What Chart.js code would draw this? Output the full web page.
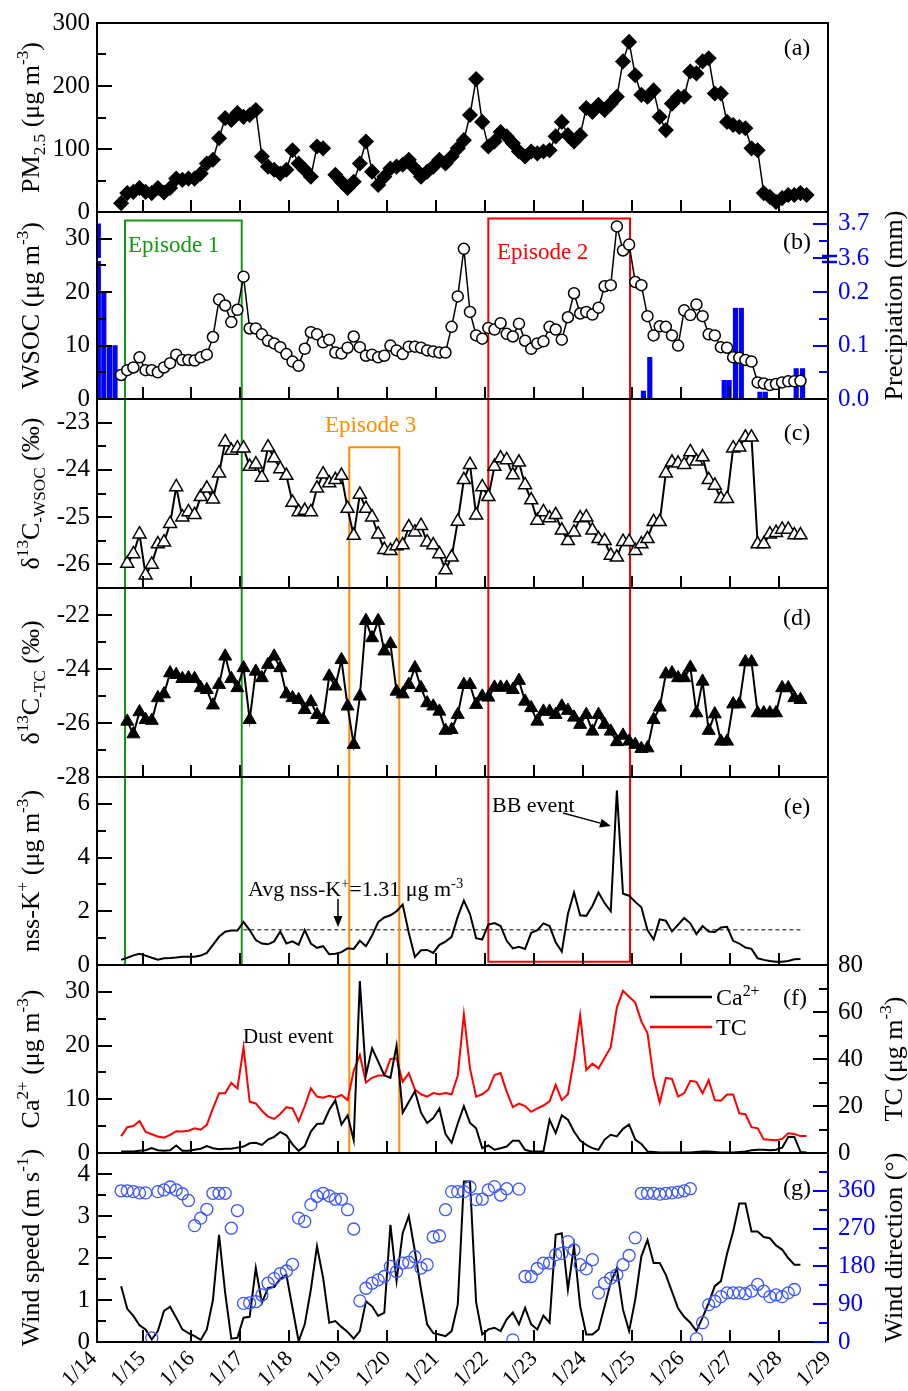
<!DOCTYPE html>
<html>
<head>
<meta charset="utf-8">
<script src="https://cdn.jsdelivr.net/npm/chart.js@4.4.1/dist/chart.umd.min.js"></script>
<style>
  html, body { margin: 0; padding: 0; background: #fff; }
  #wrap { position: relative; width: 908px; height: 1391px; overflow: hidden; }
  #wrap canvas { position: absolute; left: 0; }
</style>
</head>
<body>
<div id="wrap"></div>
<script>
/* =========================
   DATA
========================= */

// sample times, days after 1/14 00:00
const sampleDay = [
  0.563, 0.688, 0.813, 0.938,
  1.063, 1.188, 1.313, 1.438, 1.563, 1.688, 1.813, 1.938,
  2.063, 2.188, 2.313, 2.438, 2.563, 2.688, 2.813, 2.938,
  3.063, 3.188, 3.313, 3.438, 3.563, 3.688, 3.813, 3.938,
  4.063, 4.188, 4.313, 4.438, 4.563, 4.688, 4.813, 4.938,
  5.063, 5.188, 5.313, 5.438, 5.563, 5.688, 5.813, 5.938,
  6.063, 6.188, 6.313, 6.438, 6.563, 6.688, 6.813, 6.938,
  7.063, 7.188, 7.313, 7.438, 7.563, 7.688, 7.813, 7.938,
  8.063, 8.188, 8.313, 8.438, 8.563, 8.688, 8.813, 8.938,
  9.063, 9.188, 9.313, 9.438, 9.563, 9.688, 9.813, 9.938,
  10.063, 10.188, 10.313, 10.438, 10.563, 10.688, 10.813, 10.938,
  11.063, 11.188, 11.313, 11.438, 11.563, 11.688, 11.813, 11.938,
  12.063, 12.188, 12.313, 12.438, 12.563, 12.688, 12.813, 12.938,
  13.063, 13.188, 13.313, 13.438, 13.563, 13.688, 13.813, 13.938,
  14.063, 14.188, 14.313, 14.438, 14.563
];

const pm25 = [
  14, 30, 32, 38, 32, 30, 38, 31, 38,
  53, 51, 53, 53, 61, 77, 83, 117, 149, 146, 157, 151, 154, 162, 88, 72, 67, 61, 67, 98, 77, 67, 56, 104, 101,
  null,
  59, 48, 38, 48, 77, 112, 64, 43, 56, 69, 72, 75, 83, 69, 56, 64, 72, 83, 77, 88, 101, 114,
  154, 211, 143, 104, 112, 127, 120, 109, 96, 88, 96, 93, 96, 98, 120, 143, 122, 112, 122, 165, 159, 170, 162, 172,
  183, 239, 270, 217, 186, 183, 193, 151, 130, 172, 183, 183, 223, 220, 239, 244, 188, 188, 143, 138, 135, 133,
  101, 98, 30, 24, 16, 22, 27, 27, 30, 27
];

const wsoc = [
  4.5, 5.4, 5.9, 7.8, 5.4, 5.4, 5.0, 5.9, 6.7, 8.3,
  7.3, 7.3, 7.2, 7.8, 8.3, 11.6, 18.6, 17.5, 14.4, 16.7,
  22.9, 13.2, 13.2, 12.1, 10.9, 10.4, 9.7, 8.4, 7.0, 6.2,
  9.4, 12.5, 12.1, 10.6, 11.1, 8.7, 8.5, 9.6, 11.7, 9.7,
  8.1, 8.3, 7.8, 8.1, 10.0, 9.1, 8.4, 9.8, 9.8, 9.6,
  9.1, 8.9, 8.7, 8.7, 13.5, 19.2, 28.1, 16.3, 11.9, 11.3,
  13.3, 13.0, 14.2, 12.2, 11.7, 14.1, 10.9, 9.4, 10.4, 10.8,
  13.5, 13.0, 11.1, 15.3, 19.8, 16.0, 16.3, 15.8, 17.1, 21.1,
  21.3, 32.3, 27.8, 28.9, 21.9, 21.3, 15.5, 11.9, 13.6, 13.5,
  11.9, 10.0, 16.6, 15.7, 17.7, 15.5, 12.1, 11.9, 9.7, 9.6,
  7.8, 7.7, 7.3, 7.0, 3.1, 2.9, 2.6, 2.8, 3.1, 3.3,
  3.3, 3.4, null
];

const precipDay = [0.097, 0.209, 0.325, 0.438, 11.23, 11.36, 12.88, 12.98, 13.11, 13.23, 13.61, 13.72, 14.35, 14.48];
const precipMm  = [3.7, 0.2, 0.1, 0.1, 0.015, 0.078, 0.035, 0.035, 0.17, 0.17, 0.013, 0.013, 0.057, 0.057];
const precipTickValues = [0, 0.1, 0.2, 3.6, 3.7];
const precipTickLabels = ['0.0', '0.1', '0.2', '3.6', '3.7'];

const d13cWsoc = [
  null,
  -25.98, -25.78, -25.36, -26.23, -26.0, -25.57, -25.53, -25.14, -24.36, -25.0,
  -24.89, -24.95, -24.57, -24.39, -24.62, -24.07, -23.41, -23.59, -23.54, -23.54,
  -23.93, -23.88, -24.16, -23.52, -23.75, -23.98, -24.12, -24.69, -24.89, -24.86,
  -24.89, -24.39, -24.09, -24.28, -24.21, -24.12, -24.82, -25.39, -24.52, -24.82,
  -25.0, -25.36, -25.69, -25.71, -25.61, -25.59, -25.21, -25.32, -25.18, -25.53,
  -25.59, -25.78, -26.12, -25.85, -25.09, -24.21,
  -23.89, -24.96, -24.36, -24.57, -23.93, -23.75, -23.79, -24.11, -23.84, -24.32,
  -24.64, -25.07, -24.89, -25.02, -24.95, -25.28, -25.50, -25.32, -25.02, -25.0,
  -25.28, -25.46, -25.50, -25.81, -25.85, -25.52, -25.52, -25.71, -25.57, -25.46,
  -25.10, -25.10, -24.07, -23.84, -23.86, -23.89, -23.62, -23.82, -23.73, -24.21,
  -24.33, -24.61, -24.61, -23.54, -23.52, -23.31, -23.31, -25.57, -25.57, -25.36,
  -25.33, -25.26, -25.26, -25.38, -25.38,
  null
];

const d13cTc = [
  null,
  -25.94, -26.41, -25.59, -25.88, -25.91, -25.07, -24.93, -24.15, -24.21, -24.36,
  -24.33, -24.36, -24.70, -24.77, -25.34, -24.58, -23.53, -24.36, -24.70, -23.96,
  -25.88, -24.09, -24.33, -23.84, -23.53, -23.96, -24.93, -25.07, -25.14, -25.51,
  -25.22, -25.69, -25.88, -24.27, -24.64, -23.66, -25.38, -26.80, -25.01, -22.21,
  -22.85, -22.21, -23.34, -23.07, -24.83, -24.93, -24.58, -23.96, -24.70, -25.26,
  -25.38, -25.57, -26.28, -26.25, -25.69, -24.58,
  -24.58, -25.32, -25.01, -25.05, -24.68, -24.68, -24.68, -24.77, -24.43, -25.20,
  -25.44, -25.94, -25.57, -25.57, -25.69, -25.38, -25.54, -25.79, -26.06, -25.69,
  -26.31, -25.69, -26.06, -26.31, -26.70, -26.46, -26.68, -26.80, -26.95, -26.93,
  -25.88, -25.42, -24.19, -24.15, -24.33, -24.33, -23.94, -25.63, -24.46, -26.28,
  -25.67, -26.68, -26.68, -25.30, -25.30, -23.74, -23.74, -25.63, -25.63, -25.63,
  -25.63, -24.70, -24.70, -25.07, -25.14,
  null
];

const nssK = [
  0.19, 0.27, 0.36, 0.42, 0.35, 0.27, 0.2, 0.25, 0.26, 0.28,
  0.31, 0.31, 0.31, 0.35, 0.45, 0.75, 1.05, 1.24, 1.28, 1.28,
  1.6, 1.3, 0.93, 0.8, 0.77, 0.88, 1.25, 0.8, 0.88, 0.75,
  1.3, 0.8, 0.64, 0.7, 0.4, 0.42, 0.48, 0.62, 0.6, 0.9,
  0.7, 1.1, 1.6, 1.77, 1.85, 2.0, 2.25, 1.2, 0.3, 0.55,
  0.56, 0.45, 0.75, 0.87, 1.05, 1.8, 2.4, 1.9, 1.0, 0.95,
  1.5, 1.56, 1.45, 0.9, 0.62, 0.68, 0.6, 1.2, 1.3, 1.55,
  1.45, 0.85, 0.5, 1.9, 2.7, 1.85, 1.83, 2.2, 2.7, 2.3,
  2.0, 6.5, 2.65, 2.58, 2.35, 2.15, 1.3, 0.95, 1.7, 1.65,
  1.25, 1.5, 1.75, 1.55, 1.15, 1.45, 1.25, 1.23, 1.4, 1.42,
  0.9, 0.8, 0.65, 0.6, 0.25, 0.19, 0.15, 0.12, 0.12, 0.15,
  0.21, 0.22, null
];
const nssKAvg = 1.31;
const nssKAvgSpan = [3.06, 14.5];

const calcium = [
  0.3, 0.3, 0.3, 0.4, 0.5, 0.9, 0.5, 0.4, 0.5, 1.4,
  0.4, 0.4, 0.6, 0.8, 1.3, 0.9, 0.7, 0.8, 0.8, 1.0,
  1.2, 1.8, 1.9, 1.5, 2.5, 3.0, 3.9, 3.3, 1.6, 0.4,
  1.3, 4.0, 5.4, 5.5, 8.0, 9.8, 5.3, 7.0, 2.4, 32,
  14.5, 19.5, 17, 14.5, 14, 20, 7.5, 9.5, 11.5, 7.5,
  5.6, 6.5, 8.3, 3.5, 1.9, 5.5, 8.7, 5.6, 4.6, 0.9,
  1.4, 0.6, 0.9, 1.2, 2.3, 2.3, 0.6, 0.3, 0.3, 0.3,
  6.2, 3.7, 7.0, 6.2, 4.0, 2.3, 1.5, 0.9, 0.6, 2.5,
  3.4, 3.1, 4.5, 5.3, 2.5, 1.7, 0.3, 0.2, 0.1, 0.1,
  0.1, 0.1, 0.1, 0.1, 0.2, 0.3, 0.3, 0.2, 0.1, 0.1,
  0.1, 0.2, 0.3, 0.5, 0.6, 0.6, 0.5, 0.6, 1.0, 3.0,
  3.0, 0.2, 0.1
];

const totalCarbon = [
  7.2, 11, 11.5, 13.6, 9, 8, 7, 6.5, 7.7, 9.3,
  9.2, 9.5, 10.5, 9.9, 12, 19, 25.4, 25.4, 29.9, 27.5,
  45, 21.8, 21.1, 18, 15.5, 14.5, 16.6, 19.5, 19, 13.5,
  20, 27.5, 24, 23.5, 24.3, 23.6, 24.7, 22.5, 35, 41.7,
  30, 32, 33, 33, 40, 40.3, 30.3, 34, 27, 25,
  24, 25.5, 25, 25.5, 25, 33, 59, 36, 24, 25,
  27, 33.2, 34, 26, 19.5, 21, 20, 17.5, 19, 20.2,
  22, 29, 22.5, 25, 40, 58.7, 35.3, 38, 36, 40.5,
  45, 62, 69, 66.5, 64, 56, 51, 32, 21.5, 32,
  31.5, 24, 25.5, 30.7, 30.3, 25.4, 31, 22.5, 22.3, 24.9,
  24.9, 16.9, 16.5, 11, 10.5, 5.8, 5.6, 5.4, 6, 8.4,
  8.1, 7.2, 7.2
];

const windSpeed = [
  1.33, 0.79, 0.62, 0.4, 0.3, 0.06, 0.26, 0.74, 0.84, 0.58,
  0.30, 0.21, 0.14, 0.05, 0.30, 1.0, 2.55, 1.17, 0.08, 0.1,
  0.58, 0.6, 1.76, 0.93, 1.29, 1.31, 1.5, 1.6, 0.81, 0.02,
  0.42, 1.25, 2.28, 1.53, 0.46, 0.5, 0.36, 0.24, 0.08, 0.26,
  0.97, 0.85, 0.62, 0.7, 2.79, 1.45, 2.59, 3.0, 2.16, 1.25,
  0.42, 0.21, 0.18, 0.14, 0.26, 0.89, 3.82, 3.82, 0.95, 0.18,
  0.3, 0.34, 0.26, 0.54, 0.7, 0.42, 0.81, 0.42, 0.3, 0.63,
  0.46, 2.55, 2.59, 1.25, 2.28, 0.85, 0.18, 0.18, 0.3, 0.85,
  1.42, 1.76, 0.77, 0.26, 1.01, 2.04, 2.43, 1.88, 1.88, 1.6,
  1.2, 0.8, 0.6, 0.46, 0.26, 0.58, 0.93, 1.33, 1.45, 2.1,
  2.63, 3.3, 3.3, 2.63, 2.63, 2.5, 2.47, 2.3, 2.2, 2.0,
  1.84, 1.84, null
];

const windDir = [
  360, 360, 358, 355, 355, 10, 358, 362, 369, 362,
  353, 337, 277, 295, 316, 354, 354, 354, 271, 313,
  92, 93, 96, 112, 140, 151, 163, 169, 185, 295,
  287, 327, 347, 354, 348, 340, 340, 315, 269, 98,
  128, 140, 148, 156, 180, 168, 188, 190, 203, 176,
  184, 250, 253, 315, 358, 358, 358, 369, 339, 340,
  362, 370, 350, 365, 5, 364, 156, 156, 175, 188,
  188, 208, 211, 239, 219, 184, 174, 196, 117, 140,
  152, 160, 184, 206, 248, 354, 354, 354, 352, 354,
  355, 357, 360, 365, 8, 46, 89, 97, 108, 117,
  117, 117, 115, 121, 137, 121, 108, 112, 108, 117,
  125, null, null
];

const dayTicks = [0, 1, 2, 3, 4, 5, 6, 7, 8, 9, 10, 11, 12, 13, 14, 15];
const dayTickLabels = ['1/14', '1/15', '1/16', '1/17', '1/18', '1/19', '1/20', '1/21',
  '1/22', '1/23', '1/24', '1/25', '1/26', '1/27', '1/28', '1/29'];

const episodeName   = ['Episode 1', 'Episode 2', 'Episode 3'];
const episodeStart  = [0.642, 8.062, 5.223];
const episodeEnd    = [3.026, 10.956, 6.244];
const episodeTop    = [33.4, 33.8, -23.52];   // value on the first panel's axis
const episodeBottom = [0, 0.12, 0];           // value on the last panel's axis
const episodeFirst  = [1, 1, 2];
const episodeLast   = [4, 4, 5];

/* =========================
   STYLE / LAYOUT
========================= */

const FONT = "'Liberation Serif', 'Times New Roman', serif";
const BLUE = '#0000ff';
const WD_BLUE = '#3a55ff';
const EP_COLOR = ['#119a11', '#ff0000', '#ff8c00'];
const EP_LABEL_X = [128, 497, 325];
const EP_LABEL_Y = [244, 251, 424];
const PAD = 30;
const PAGE_H = 1391;
const LEFT_W = 97;
const RIGHT_W = 80;
const X_MIN = 0.07;
const X_MAX = 15;
const TICK_FONT = 25;
const TITLE_FONT = 26;

const wrap = document.getElementById('wrap');

const pts = ys => sampleDay.map((d, i) => ({ x: d, y: ys[i] }));

// broken precipitation axis: 0-0.25 linear, then 3.6-3.7 compressed on top
function precipPos(v) {
  return v <= 0.25 ? v : 0.264 + (v - 3.6) * 0.64;
}

/* =========================
   TEXT HELPERS
========================= */

function rich(ctx, parts, x, y, size, color, align, rotate) {
  ctx.save();
  ctx.fillStyle = color;
  ctx.textBaseline = 'alphabetic';
  const small = size * 0.66;
  let w = 0;
  const items = parts.map(([t, m]) => {
    const fs = m ? small : size;
    ctx.font = fs + 'px ' + FONT;
    const tw = ctx.measureText(t).width;
    w += tw;
    return { t, m, fs, tw };
  });
  ctx.translate(x, y);
  if (rotate) ctx.rotate(-Math.PI / 2);
  let cx = align === 'center' ? -w / 2 : align === 'right' ? -w : 0;
  const base = size * 0.34;
  items.forEach(it => {
    ctx.font = it.fs + 'px ' + FONT;
    const dy = it.m === 'sup' ? -size * 0.4 : it.m === 'sub' ? size * 0.24 : 0;
    ctx.fillText(it.t, cx, base + dy);
    cx += it.tw;
  });
  ctx.restore();
}

function arrow(ctx, x0, y0, x1, y1) {
  const ang = Math.atan2(y1 - y0, x1 - x0);
  const hl = 11, hw = 4.5;
  ctx.save();
  ctx.strokeStyle = '#000';
  ctx.fillStyle = '#000';
  ctx.lineWidth = 1.5;
  ctx.beginPath();
  ctx.moveTo(x0, y0);
  ctx.lineTo(x1 - Math.cos(ang) * hl, y1 - Math.sin(ang) * hl);
  ctx.stroke();
  ctx.beginPath();
  ctx.moveTo(x1, y1);
  ctx.lineTo(x1 - Math.cos(ang) * hl + Math.sin(ang) * hw, y1 - Math.sin(ang) * hl - Math.cos(ang) * hw);
  ctx.lineTo(x1 - Math.cos(ang) * hl - Math.sin(ang) * hw, y1 - Math.sin(ang) * hl + Math.cos(ang) * hw);
  ctx.closePath();
  ctx.fill();
  ctx.restore();
}

/* =========================
   PANELS
========================= */

const mu = 'μ';

const panels = [
  { // (a)
    top: 23, bottom: 212,
    y: { min: 0, max: 300, major: [0, 100, 200, 300], minor: [50, 150, 250], labels: ['0', '100', '200', '300'] },
    title: [['PM', ''], ['2.5', 'sub'], [' (' + mu + 'g m', ''], ['-3', 'sup'], [')', '']],
    tag: '(a)', tagY: 47,
    datasets: [{
      data: pts(pm25), borderColor: '#000', borderWidth: 1.5,
      pointStyle: 'rectRot', pointRadius: 7, pointBackgroundColor: '#000', pointBorderColor: '#000',
      spanGaps: false
    }]
  },
  { // (b)
    top: 212, bottom: 399,
    y: { min: 0, max: 35, major: [0, 10, 20, 30], minor: [5, 15, 25], labels: ['0', '10', '20', '30'] },
    y2: { min: 0, max: 0.35, major: precipTickValues.map(precipPos), minor: [0.05, 0.15, precipPos(3.65)],
          labels: precipTickLabels, color: BLUE },
    title: [['WSOC (' + mu + 'g m', ''], ['-3', 'sup'], [')', '']],
    title2: [['Precipiation (mm)', '']],
    tag: '(b)', tagY: 241,
    datasets: [
      {
        data: pts(wsoc), borderColor: '#000', borderWidth: 1.5,
        pointStyle: 'circle', pointRadius: 5.5, pointBackgroundColor: '#fff', pointBorderColor: '#000',
        pointBorderWidth: 1.5
      },
      {
        type: 'bar', yAxisID: 'y2',
        data: precipDay.map((d, i) => ({ x: d, y: precipPos(precipMm[i]) })),
        backgroundColor: BLUE, barThickness: 4.5, borderWidth: 0
      }
    ]
  },
  { // (c)
    top: 399, bottom: 588,
    y: { min: -26.5, max: -22.5, major: [-26, -25, -24, -23], minor: [-25.5, -24.5, -23.5], labels: ['-26', '-25', '-24', '-23'] },
    title: [[String.fromCharCode(948), ''], ['13', 'sup'], ['C', ''], ['-WSOC', 'sub'], [' (‰)', '']],
    tag: '(c)', tagY: 432,
    datasets: [{
      data: pts(d13cWsoc), borderColor: '#000', borderWidth: 2,
      pointStyle: 'triangle', pointRadius: 7.5, pointBackgroundColor: '#fff', pointBorderColor: '#000',
      pointBorderWidth: 1.5
    }]
  },
  { // (d)
    top: 588, bottom: 777,
    y: { min: -28, max: -21, major: [-28, -26, -24, -22], minor: [-27, -25, -23], labels: ['-28', '-26', '-24', '-22'] },
    title: [[String.fromCharCode(948), ''], ['13', 'sup'], ['C', ''], ['-TC', 'sub'], [' (‰)', '']],
    tag: '(d)', tagY: 617,
    datasets: [{
      data: pts(d13cTc), borderColor: '#000', borderWidth: 2,
      pointStyle: 'triangle', pointRadius: 7.5, pointBackgroundColor: '#000', pointBorderColor: '#000',
      pointBorderWidth: 1
    }]
  },
  { // (e)
    top: 777, bottom: 965,
    y: { min: 0, max: 7, major: [0, 2, 4, 6], minor: [1, 3, 5], labels: ['0', '2', '4', '6'] },
    title: [['nss-K', ''], ['+', 'sup'], [' (' + mu + 'g m', ''], ['-3', 'sup'], [')', '']],
    tag: '(e)', tagY: 806,
    datasets: [{ data: pts(nssK), borderColor: '#000', borderWidth: 2, pointRadius: 0 }],
    under(chart) {
      const { ctx, scales } = chart;
      const y = scales.y.getPixelForValue(nssKAvg);
      ctx.save();
      ctx.strokeStyle = '#000';
      ctx.lineWidth = 1;
      ctx.setLineDash([4, 3]);
      ctx.beginPath();
      ctx.moveTo(scales.x.getPixelForValue(nssKAvgSpan[0]), y);
      ctx.lineTo(scales.x.getPixelForValue(nssKAvgSpan[1]), y);
      ctx.stroke();
      ctx.restore();
    },
    notes(ctx) {
      rich(ctx, [['Avg nss-K', ''], ['+', 'sup'], ['=1.31 ' + mu + 'g m', ''], ['-3', 'sup']], 248, 889, 22, '#000', 'left');
      arrow(ctx, 338, 899, 338, 927);
      rich(ctx, [['BB event', '']], 492, 805, 22, '#000', 'left');
      arrow(ctx, 563, 813, 611, 826);
    }
  },
  { // (f)
    top: 965, bottom: 1153,
    y: { min: 0, max: 35, major: [0, 10, 20, 30], minor: [5, 15, 25], labels: ['0', '10', '20', '30'] },
    y2: { min: 0, max: 80, major: [0, 20, 40, 60, 80], minor: [10, 30, 50, 70], labels: ['0', '20', '40', '60', '80'], color: '#000' },
    title: [['Ca', ''], ['2+', 'sup'], [' (' + mu + 'g m', ''], ['-3', 'sup'], [')', '']],
    title2: [['TC (' + mu + 'g m', ''], ['-3', 'sup'], [')', '']],
    tag: '(f)', tagY: 997, tagX: 795,
    datasets: [
      { data: pts(calcium), borderColor: '#000', borderWidth: 2, pointRadius: 0 },
      { data: pts(totalCarbon), yAxisID: 'y2', borderColor: '#ff0000', borderWidth: 2, pointRadius: 0 }
    ],
    notes(ctx) {
      ctx.save();
      ctx.lineWidth = 2.5;
      ctx.strokeStyle = '#000';
      ctx.beginPath(); ctx.moveTo(650, 997); ctx.lineTo(712, 997); ctx.stroke();
      ctx.strokeStyle = '#ff0000';
      ctx.beginPath(); ctx.moveTo(650, 1027); ctx.lineTo(712, 1027); ctx.stroke();
      ctx.restore();
      rich(ctx, [['Ca', ''], ['2+', 'sup']], 716, 997, 24, '#000', 'left');
      rich(ctx, [['TC', '']], 716, 1027, 24, '#000', 'left');
      rich(ctx, [['Dust event', '']], 243, 1036, 21, '#000', 'left');
    }
  },
  { // (g)
    top: 1153, bottom: 1342,
    y: { min: 0, max: 4.5, major: [0, 1, 2, 3, 4], minor: [0.5, 1.5, 2.5, 3.5], labels: ['0', '1', '2', '3', '4'] },
    y2: { min: 0, max: 450, major: [0, 90, 180, 270, 360], minor: [45, 135, 225, 315, 405], labels: ['0', '90', '180', '270', '360'], color: BLUE },
    title: [['Wind speed (m s', ''], ['-1', 'sup'], [')', '']],
    title2: [['Wind direction (°)', '']],
    tag: '(g)', tagY: 1187,
    datasets: [
      {
        data: pts(windDir), yAxisID: 'y2', showLine: false,
        pointStyle: 'circle', pointRadius: 6, pointBackgroundColor: 'rgba(255,255,255,0)',
        pointBorderColor: WD_BLUE, pointBorderWidth: 1.3
      },
      { data: pts(windSpeed), borderColor: '#000', borderWidth: 2, pointRadius: 0 }
    ]
  }
];

/* =========================
   DECORATION PLUGIN
========================= */

function tickMarks(ctx, scale, area, vals, len, side, color) {
  ctx.save();
  ctx.strokeStyle = color;
  ctx.lineWidth = 2;
  ctx.beginPath();
  vals.forEach(v => {
    const y = Math.round(scale.getPixelForValue(v));
    if (side === 'left') { ctx.moveTo(area.left, y); ctx.lineTo(area.left + len, y); }
    else { ctx.moveTo(area.right, y); ctx.lineTo(area.right - len, y); }
  });
  ctx.stroke();
  ctx.restore();
}

function decor(p, idx, canvasTop) {
  return {
    id: 'decor' + idx,
    beforeDatasetsDraw(chart) {
      const { ctx, chartArea: a, scales } = chart;
      if (p.under) p.under(chart);
      // episode boxes
      episodeName.forEach((n, k) => {
        if (idx < episodeFirst[k] || idx > episodeLast[k]) return;
        const x0 = scales.x.getPixelForValue(episodeStart[k]);
        const x1 = scales.x.getPixelForValue(episodeEnd[k]);
        const y0 = idx === episodeFirst[k] ? scales.y.getPixelForValue(episodeTop[k]) : a.top;
        const y1 = idx === episodeLast[k] ? scales.y.getPixelForValue(episodeBottom[k]) : a.bottom;
        ctx.save();
        ctx.strokeStyle = EP_COLOR[k];
        ctx.lineWidth = 2;
        ctx.beginPath();
        ctx.moveTo(x0, y0); ctx.lineTo(x0, y1);
        ctx.moveTo(x1, y0); ctx.lineTo(x1, y1);
        if (idx === episodeFirst[k]) { ctx.moveTo(x0 - 1, y0); ctx.lineTo(x1 + 1, y0); }
        if (idx === episodeLast[k]) { ctx.moveTo(x0 - 1, y1); ctx.lineTo(x1 + 1, y1); }
        ctx.stroke();
        ctx.restore();
      });
    },
    afterDatasetsDraw(chart) {
      const { ctx, chartArea: a, scales } = chart;

      // break of the precipitation axis
      if (idx === 1) {
        const yb = scales.y2.getPixelForValue(0.262);
        const xb = scales.x.getPixelForValue(precipDay[0]);
        ctx.save();
        ctx.fillStyle = '#fff';
        ctx.fillRect(a.left, yb - 1, xb - a.left + 3, 3);
        ctx.strokeStyle = BLUE;
        ctx.lineWidth = 2.5;
        ctx.beginPath();
        ctx.moveTo(a.right - 6, yb - 3); ctx.lineTo(a.right + 9, yb - 3);
        ctx.moveTo(a.right - 6, yb + 3); ctx.lineTo(a.right + 9, yb + 3);
        ctx.stroke();
        ctx.restore();
      }

      // frame
      ctx.save();
      ctx.strokeStyle = '#000';
      ctx.lineWidth = 2;
      ctx.strokeRect(a.left, a.top, a.right - a.left, a.bottom - a.top);
      ctx.restore();

      // ticks
      tickMarks(ctx, scales.y, a, p.y.major, 15, 'left', '#000');
      tickMarks(ctx, scales.y, a, p.y.minor, 9, 'left', '#000');
      if (p.y2) {
        tickMarks(ctx, scales.y2, a, p.y2.major, 15, 'right', p.y2.color);
        tickMarks(ctx, scales.y2, a, p.y2.minor, 9, 'right', p.y2.color);
      }
      ctx.save();
      ctx.strokeStyle = '#000';
      ctx.lineWidth = 2;
      ctx.beginPath();
      dayTicks.forEach(d => {
        if (d <= X_MIN || d >= X_MAX) return;
        const x = Math.round(scales.x.getPixelForValue(d));
        ctx.moveTo(x, a.bottom);
        ctx.lineTo(x, a.bottom - 12);
      });
      ctx.stroke();
      ctx.restore();

      // text in page coordinates
      ctx.save();
      ctx.translate(0, -canvasTop);
      const mid = (p.top + p.bottom) / 2;
      rich(ctx, p.title, 30, mid, TITLE_FONT, '#000', 'center', true);
      if (p.title2) rich(ctx, p.title2, 893, mid, TITLE_FONT, '#000', 'center', true);
      rich(ctx, [[p.tag, '']], p.tagX || 797, p.tagY, 24, '#000', 'center');
      episodeName.forEach((n, k) => {
        if (idx === episodeFirst[k]) rich(ctx, [[n, '']], EP_LABEL_X[k], EP_LABEL_Y[k], 23, EP_COLOR[k], 'left');
      });
      if (p.notes) p.notes(ctx);
      ctx.restore();
    }
  };
}

/* =========================
   BUILD
========================= */

function yScale(ax, pos) {
  return {
    type: 'linear', position: pos, min: ax.min, max: ax.max,
    grid: { display: false, drawTicks: false },
    border: { display: false },
    ticks: {
      color: ax.color || '#000',
      font: { family: FONT, size: TICK_FONT },
      padding: pos === 'left' ? 7 : 10,
      autoSkip: false,
      callback: (v, i) => ax.labels[i]
    },
    afterBuildTicks: s => { s.ticks = ax.major.map(v => ({ value: v })); },
    afterFit: s => { s.width = pos === 'left' ? LEFT_W : RIGHT_W; }
  };
}

panels.forEach((p, idx) => {
  const isLast = idx === panels.length - 1;
  const top = p.top - PAD;
  const h = p.bottom - top + (isLast ? PAGE_H - p.bottom : PAD);
  const cv = document.createElement('canvas');
  cv.width = 908;
  cv.height = h;
  cv.style.top = top + 'px';
  cv.style.width = '908px';
  cv.style.height = h + 'px';
  wrap.appendChild(cv);

  const scales = {
    x: {
      type: 'linear', min: X_MIN, max: X_MAX, offset: false,
      display: isLast,
      grid: { display: false, drawTicks: false },
      border: { display: false },
      ticks: {
        font: { family: FONT, size: 22 }, color: '#000',
        maxRotation: 45, minRotation: 45, autoSkip: false, padding: 4,
        callback: (v, i) => dayTickLabels[i]
      },
      afterBuildTicks: s => { s.ticks = dayTicks.map(v => ({ value: v })); },
      afterFit: s => { s.height = isLast ? PAGE_H - p.bottom : 0; }
    },
    y: yScale(p.y, 'left')
  };
  if (p.y2) scales.y2 = yScale(p.y2, 'right');

  new Chart(cv, {
    type: 'line',
    data: { datasets: p.datasets },
    options: {
      responsive: false,
      animation: false,
      devicePixelRatio: 1,
      events: [],
      layout: { padding: { top: PAD, bottom: isLast ? 0 : PAD, left: 0, right: p.y2 ? 0 : RIGHT_W } },
      plugins: { legend: { display: false }, tooltip: { enabled: false } },
      scales
    },
    plugins: [decor(p, idx, top)]
  });
});
</script>
</body>
</html>
